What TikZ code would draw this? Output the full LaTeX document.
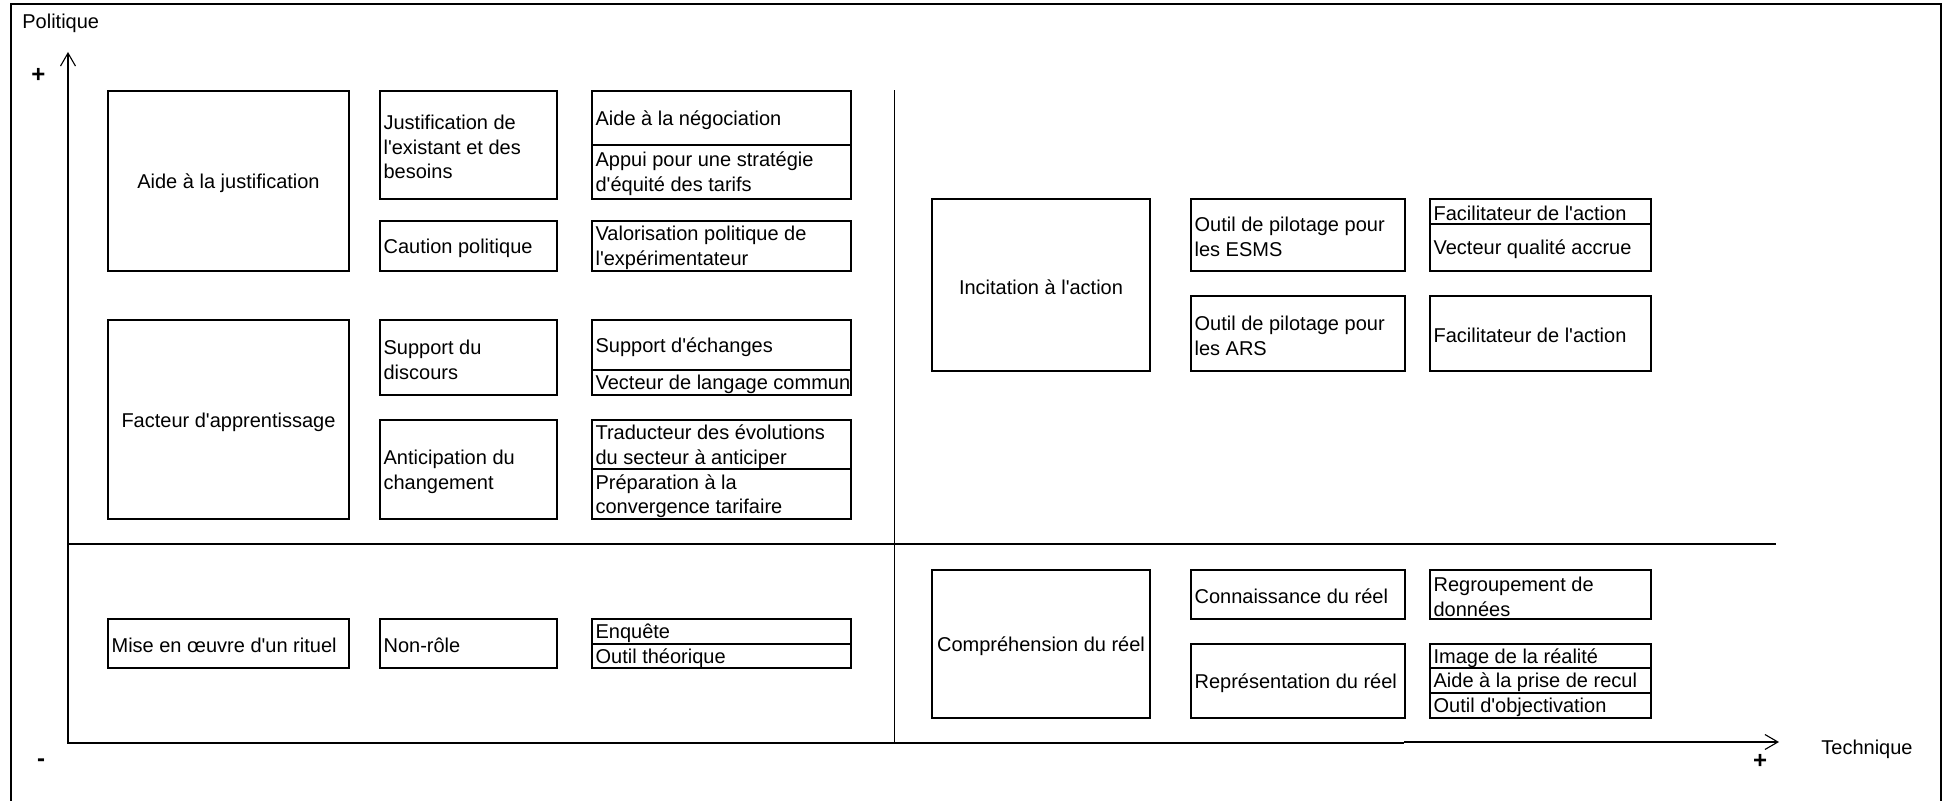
\documentclass[tikz,border=0pt]{standalone}
\usepackage{fontspec}
\newfontfamily\af{Liberation Sans}
\usetikzlibrary{arrows.meta}
\tikzset{
  cellbox/.style={draw, line width=1pt, inner sep=0pt, outer sep=0pt},
  celltext/.style={inner sep=0pt, outer sep=0pt, align=left, font=\af\fontsize{10}{12.4}\selectfont},
  ctext/.style={inner sep=0pt, outer sep=0pt, align=center, font=\af\fontsize{10}{12.4}\selectfont},
  lbl/.style={inner sep=0pt, font=\af\fontsize{10}{12.4}\selectfont},
  signlbl/.style={inner sep=0pt, font=\af\bfseries\fontsize{12}{14}\selectfont},
  axthick/.style={line width=1pt},
  axthin/.style={line width=0.55pt, -{Straight Barb[length=6.5pt,width=7.5pt]}},
  midline/.style={line width=0.8pt, black},
}
% left-aligned cell: name, x1, y1, x2, y2, text
\newcommand\cellL[6]{%
  \pgfmathsetmacro\cw{(#4-#2)*0.5}%
  \pgfmathsetmacro\ch{(#5-#3)*0.5}%
  \node[cellbox, minimum width=\cw pt, minimum height=\ch pt] (#1) at ({(#2+#4)/2},{(#3+#5)/2}) {};
  \node[celltext, anchor=west] (#1-t) at ([xshift=1.8pt,yshift=-1pt]#1.west) {#6};}
% centred cell
\newcommand\cellC[6]{%
  \pgfmathsetmacro\cw{(#4-#2)*0.5}%
  \pgfmathsetmacro\ch{(#5-#3)*0.5}%
  \node[cellbox, minimum width=\cw pt, minimum height=\ch pt] (#1) at ({(#2+#4)/2},{(#3+#5)/2}) {};
  \node[ctext] (#1-t) at ([yshift=-1.2pt]#1.center) {#6};}

\begin{document}
\begin{tikzpicture}[x=0.5pt,y=-0.5pt]
\useasboundingbox (0,0) rectangle (1948,801);
\fill[white] (0,0) rectangle (1948,801);
% outer frame (bottom edge lies below the picture)
\coordinate (fbl) at (11,801);
\coordinate (ftl) at (11,4.5);
\coordinate (ftr) at (1940.5,4.5);
\coordinate (fbr) at (1940.5,801);
\draw[line width=1pt] (fbl) -- (ftl) -- (ftr) -- (fbr);

% axes
\coordinate (o) at (68,742.5);
\coordinate (ytop) at (68,90.5);
\coordinate (ytip) at (68,52);
\coordinate (xmid) at (1404,742.5);
\coordinate (xtip) at (1779,742);
\coordinate (hl) at (68,544.5);
\coordinate (hr) at (1776,544.5);
\coordinate (vt) at (894.5,90.5);
\coordinate (vb) at (894.5,742.5);
\draw[axthick] (ytop) -- (o) -- (xmid);
\draw[axthin] (ytop) -- (ytip);
\draw[axthin] ([yshift=0.25pt]xmid) -- (xtip);
\draw[axthick] (hl) -- (hr);
\draw[midline] (vt) -- (vb);

% axis labels
\node[lbl, anchor=west] (pol) at (22,23) {Politique};
\node[lbl, anchor=west] (tech) at (1821,749.5) {Technique};
\node[signlbl] (yplus) at (38.5,75.5) {+};
\node[signlbl] (yminus) at (41,763) {-};
\node[signlbl] (xplus) at (1760,761) {+};

% upper left quadrant
\cellC{A1}{108}{91}{349}{271}{Aide à la justification}
\cellL{B1}{380}{91}{557}{199}{Justification de\\l'existant et des\\besoins}
\cellL{C1a}{592}{91}{851}{145}{Aide à la négociation}
\cellL{C1b}{592}{145}{851}{199}{Appui pour une stratégie\\d'équité des tarifs}
\cellL{B2}{380}{221}{557}{271}{Caution politique}
\cellL{C2}{592}{221}{851}{271}{Valorisation politique de\\l'expérimentateur}
\cellC{A2}{108}{320.5}{349}{519}{Facteur d'apprentissage}
\cellL{B3}{380}{320.5}{557}{395}{Support du\\discours}
\cellL{C3a}{592}{320.5}{851}{370}{Support d'échanges}
\cellL{C3b}{592}{370}{851}{395}{Vecteur de langage commun}
\cellL{B4}{380}{420}{557}{519}{Anticipation du\\changement}
\cellL{C4a}{592}{420}{851}{469.5}{Traducteur des évolutions\\du secteur à anticiper}
\cellL{C4b}{592}{469.5}{851}{519}{Préparation à la\\convergence tarifaire}

% lower left quadrant
\cellL{A3}{108}{619}{349}{668}{Mise en œuvre d'un rituel}
\cellL{B5}{380}{619}{557}{668}{Non-rôle}
\cellL{C5a}{592}{619}{851}{643.5}{Enquête}
\cellL{C5b}{592}{643.5}{851}{668}{Outil théorique}

% upper right quadrant
\cellC{D1}{932}{199}{1150}{371}{Incitation à l'action}
\cellL{E1}{1191}{199}{1405}{271}{Outil de pilotage pour\\les ESMS}
\cellL{E2}{1191}{296}{1405}{371}{Outil de pilotage pour\\les ARS}
\cellL{F1a}{1430}{199}{1651}{223.6}{Facilitateur de l'action}
\cellL{F1b}{1430}{223.6}{1651}{271}{Vecteur qualité accrue}
\cellL{F2}{1430}{296}{1651}{371}{Facilitateur de l'action}

% lower right quadrant
\cellC{D2}{932}{570}{1150}{718}{Compréhension du réel}
\cellL{E3}{1191}{570}{1405}{619}{Connaissance du réel}
\cellL{E4}{1191}{643.5}{1405}{718}{Représentation du réel}
\cellL{F3}{1430}{570}{1651}{619}{Regroupement de\\données}
\cellL{F4a}{1430}{643.5}{1651}{668}{Image de la réalité}
\cellL{F4b}{1430}{668}{1651}{693}{Aide à la prise de recul}
\cellL{F4c}{1430}{693}{1651}{718}{Outil d'objectivation}
\end{tikzpicture}
\end{document}
